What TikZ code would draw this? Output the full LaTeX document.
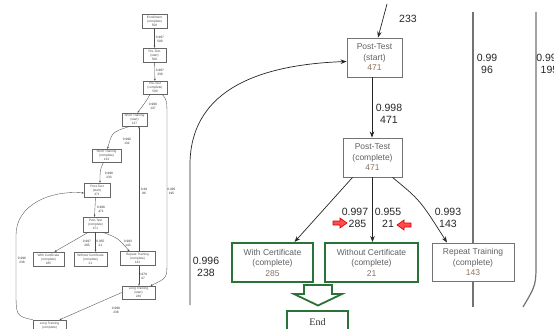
\documentclass[tikz,border=0pt]{standalone}
\usepackage{fontspec}
\setmainfont{Liberation Sans}
\newfontfamily\serifont{Liberation Serif}
\usetikzlibrary{arrows.meta,calc}
\definecolor{dgreen}{rgb}{0.16,0.45,0.22}
\definecolor{numcol}{rgb}{0.55,0.45,0.38}
\begin{document}
\begin{tikzpicture}[x=1pt,y=-1pt,
  bigbox/.style={draw=black!55, line width=0.9pt, fill=white, align=center,
    font=\fontsize{8.5}{10.5}\selectfont, text=black!62, inner sep=0pt},
  greenbox/.style={bigbox, draw=dgreen, line width=2pt},
  elab/.style={font=\fontsize{10.5}{12}\selectfont, align=center, text=black!85, inner sep=0pt},
  edgeln/.style={draw=black!85, line width=0.7pt},
  arr/.style={edgeln, -{Stealth[length=6pt,width=4.5pt]}},
  vline/.style={draw=black!55, line width=1.2pt},
  redarr/.style={draw=red!85!black, fill=red!70, line width=0.6pt},
  sbox/.style={draw=black!60, line width=0.4pt, fill=white, align=center,
    font=\fontsize{3.2}{4}\selectfont, text=black!70, inner sep=0pt},
  slab/.style={font=\fontsize{3.2}{3.9}\selectfont, align=center, text=black!80, inner sep=0pt},
  sedge/.style={draw=black!70, line width=0.35pt},
  sarr/.style={sedge, -{Stealth[length=2.2pt,width=1.8pt]}}
]
\useasboundingbox (0,0) rectangle (554,329);
\fill[white] (0,0) rectangle (554,329);

% ---------------- left thumbnail ----------------
\node[sbox, minimum width=25pt, minimum height=14pt] (n1) at (154.5,21) {Enrollment\\(complete)\\500};
\node[sbox, minimum width=23pt, minimum height=14pt] (n2) at (154.5,55) {Pre-Test\\(start)\\500};
\node[sbox, minimum width=24pt, minimum height=13pt] (n3) at (155,87.5) {Pre-Test\\(complete)\\500};
\node[sbox, minimum width=25pt, minimum height=13pt] (n4) at (134.5,119.5) {Short Training\\(start)\\137};
\node[sbox, minimum width=29pt, minimum height=13pt] (n5) at (106.5,155.5) {Short Training\\(complete)\\133};
\node[sbox, minimum width=26pt, minimum height=14pt] (n6) at (97,190) {Post-Test\\(start)\\471};
\node[sbox, minimum width=25pt, minimum height=15pt] (n7) at (95.5,224.5) {Post-Test\\(complete)\\471};
\node[sbox, minimum width=31pt, minimum height=14pt] (n8) at (48.5,259) {With Certificate\\(complete)\\285};
\node[sbox, minimum width=33pt, minimum height=14pt] (n9) at (90.5,259) {Without Certificate\\(complete)\\21};
\node[sbox, minimum width=35pt, minimum height=14pt] (n10) at (137.5,258.5) {Repeat Training\\(complete)\\143};
\node[sbox, minimum width=33pt, minimum height=13pt] (n11) at (138.5,292.5) {Long Training\\(start)\\240};
\node[sbox, minimum width=33pt, minimum height=14pt] (n12) at (49.5,327) {Long Training\\(complete)\\238};

\draw[sarr] (n1) -- (n2);
\node[slab] (l1) at (160,39) {0.997\\500};
\draw[sarr] (n2) -- (n3);
\node[slab] (l2) at (160,72) {0.997\\330};
\draw[sarr] ([xshift=-5pt]n3.south) .. controls (147,100) .. ([xshift=3pt]n4.north);
\node[slab] (l3) at (153,106) {0.990\\137};
\draw[sarr] ([xshift=-4pt]n4.south) .. controls (112,132) .. ([xshift=1pt]n5.north);
\node[slab] (l4) at (127,141) {0.990\\132};
\draw[sarr] ([xshift=-3pt]n5.south) .. controls (100,170) .. ([xshift=3pt]n6.north);
\node[slab] (l5) at (109,175) {0.998\\233};
\draw[sarr] ([xshift=-1.5pt]n6.south) -- ([xshift=-1pt]n7.north);
\node[slab] (l6) at (101,209) {0.998\\471};
\draw[sarr] ([xshift=-7pt]n7.south) -- ([xshift=6pt]n8.north);
\node[slab] (l7) at (87,243) {0.997\\285};
\draw[sarr] ([xshift=0pt]n7.south) -- ([xshift=5pt]n9.north);
\node[slab] (l8) at (100.5,243) {0.955\\21};
\draw[sarr] ([xshift=7pt]n7.south) .. controls (118,238) .. ([xshift=-8pt]n10.north);
\node[slab] (l9) at (128,243) {0.993\\143};
\draw[sarr] ([xshift=1.5pt]n10.north) -- ([xshift=4.5pt]n4.south);
\node[slab] (l10) at (144,191) {0.99\\96};
\draw[sarr] ([xshift=1.5pt]n10.south) -- ([xshift=0.5pt]n11.north);
\node[slab] (l11) at (143,276) {0.979\\47};
\draw[sarr] ([xshift=7pt]n3.south) .. controls (167,100) .. (167,120) -- (167,262)
  .. controls (167,278) .. ([xshift=12pt]n11.north);
\node[slab] (l12) at (171.5,191) {0.995\\195};
\draw[sarr] (n11.west) -- ([xshift=10pt]n12.north);
\node[slab] (l13) at (116,310) {0.998\\238};
\draw[sarr] (n12.north west) .. controls (16,316) .. (16,290) -- (16,235)
  .. controls (16,205) and (50,190) .. ([yshift=-3pt]n6.west);
\node[slab] (l14) at (22,260) {0.996\\238};

% ---------------- right detail ----------------
\coordinate (t1) at (473,12);
\coordinate (b1) at (473,307);
\draw[vline] (t1) -- (b1);
\coordinate (t2) at (536,12);
\coordinate (b2) at (523,307);
\draw[vline] (t2) -- (536,262) .. controls (536,285) .. (b2);
\node[elab] (l96) at (487,64) {0.99\\96};
\node[elab] (l19) at (549.5,64) {0.995\\195};

\node[bigbox, minimum width=55pt, minimum height=39pt] (ps) at (374.5,57.5)
  {Post-Test\\(start)\\\textcolor{numcol}{471}};
\node[bigbox, minimum width=59pt, minimum height=39pt] (pc) at (372.5,157.5)
  {Post-Test\\(complete)\\\textcolor{numcol}{471}};
\node[greenbox, minimum width=81pt, minimum height=39pt] (wc) at (272.5,262.5)
  {With Certificate\\(complete)\\\textcolor{numcol}{285}};
\node[greenbox, minimum width=93pt, minimum height=39pt] (woc) at (371.5,262.5)
  {Without Certificate\\(complete)\\\textcolor{numcol}{21}};
\node[bigbox, minimum width=82pt, minimum height=38pt] (rt) at (473,262)
  {Repeat Training\\(complete)\\\textcolor{numcol}{143}};
\node[greenbox, minimum width=61pt, minimum height=26pt, font=\serifont\fontsize{10}{12}\selectfont, text=black!80, anchor=north] (end) at (317.5,310) {\raisebox{4pt}{End}};

% incoming edge from above
\coordinate (in1) at (387,4);
\draw[arr] (in1) -- ([xshift=3.5pt]ps.north);
\node[elab] (l233) at (408,19) {233};

\draw[arr] ([xshift=-2.5pt]ps.south) -- ([xshift=-0.5pt]pc.north);
\node[elab] (l471) at (389,114) {0.998\\471};

\draw[arr] ([xshift=-20pt]pc.south) -- ([xshift=22pt]wc.north);
\draw[arr] (pc.south) -- ([xshift=1pt]woc.north);
\draw[arr] ([xshift=20pt]pc.south) .. controls (420,200) .. ([xshift=-26pt]rt.north);
\node[elab] (l285) at (355,218) {0.997\\\hspace*{5pt}285};
\node[elab] (l21) at (388,218) {0.955\\21};
\node[elab] (l143) at (448,218) {0.993\\143};

% loop edge from left
\coordinate (lb) at (190,305);
\draw[arr] (lb) -- (190,165) .. controls (190,95) and (250,65) .. ([yshift=-4pt]ps.west);
\node[elab] (l238) at (206,267) {0.996\\238};

% red markers
\draw[redarr] (333,221) -- (340,221) -- (340,218) -- (347,223) -- (340,228) -- (340,225) -- (333,225) -- cycle;
\draw[redarr] (411,223) -- (404,223) -- (404,220) -- (397,225) -- (404,230) -- (404,227) -- (411,227) -- cycle;

% green down arrow
\draw[dgreen, line width=1.8pt, fill=white, line join=miter]
  (304,285) -- (332,285) -- (332,294) -- (342,294) -- (318,305.5) -- (294,294) -- (304,294) -- cycle;
\end{tikzpicture}
\end{document}
